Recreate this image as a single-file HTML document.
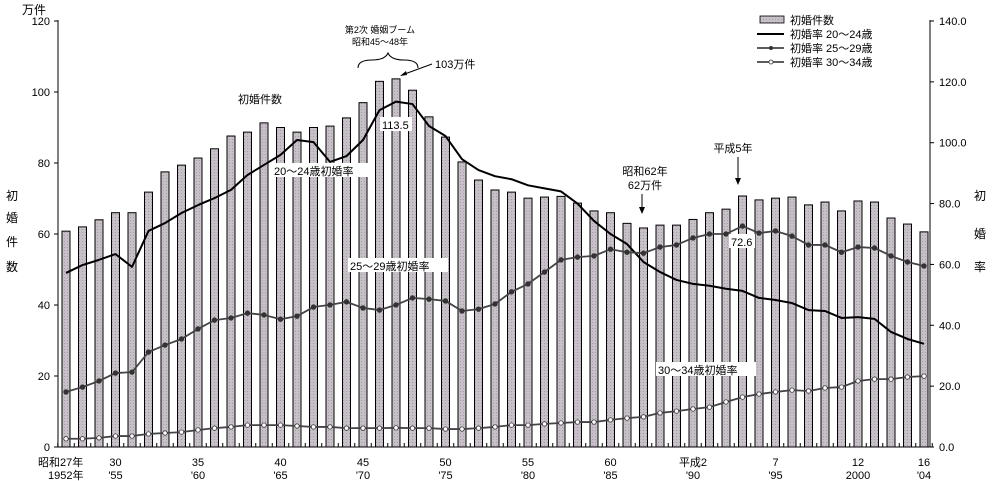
<!DOCTYPE html>
<html><head><meta charset="utf-8">
<style>
html,body{margin:0;padding:0;background:#fff;}
svg{display:block;font-family:"Liberation Sans","Noto Sans CJK JP",sans-serif;}
text{fill:#000;}
</style></head>
<body>
<svg id="chart" width="992" height="481" viewBox="0 0 992 481" xmlns="http://www.w3.org/2000/svg">
<defs>
<pattern id="dots" width="3" height="3" patternUnits="userSpaceOnUse">
<rect width="3" height="3" fill="#c6c1c6"/>
<rect x="1" y="1" width="1" height="1" fill="#b095b0"/>
</pattern>
</defs>
<g id="bars"></g>
<g id="lines"></g>
<g id="axes"></g>
<g id="annot"></g>
</svg>
<script>
const years = [];
for (let y = 1952; y <= 2004; y++) years.push(y);
const marriages = [60.8,62,64,66,66,71.8,77.5,79.4,81.4,84,87.6,88.7,91.3,90,88.7,90,90.4,92.7,97,103,103.7,100.5,93,87.3,80.3,75.2,72.4,71.8,70.1,70.4,70.6,68.7,66.5,66,63,61.7,62.5,62.5,64.1,66,67,70.7,69.6,70.1,70.4,68.2,69,66.5,69.3,69,64.5,62.8,60.6];
const rate2024 = [57.2,59.8,61.5,63.4,59.2,71,73.6,76.9,79.5,81.8,84.5,89.4,92.7,96,100.9,100.2,93.7,95.6,100.9,110.7,113.5,112.7,105.5,102.2,94.6,91,89,88,86,85,84,80,74.3,70,66.7,60.8,57.5,54.9,53.6,53,52,51.3,49,48.3,47.3,45,44.7,42.4,42.7,42.1,37.8,35.5,33.9];
const rate2529 = [18.1,19.7,21.7,24.3,24.6,31.2,33.5,35.5,38.8,41.7,42.4,44,43.4,42,43,46,46.7,47.7,45.7,45,46.7,49,48.6,48,44.7,45.3,47,51,53.6,57.5,61.5,62.4,62.8,65,64,63.7,65.7,66.4,68.7,70,70,72.6,70.3,71,69.3,66.4,66.4,64,65.7,65.4,62.8,60.8,59.5];
const rate3034 = [2.7,2.7,3,3.6,3.6,4.3,4.6,4.9,5.6,6.2,6.6,7.2,7.2,7.2,6.9,6.6,6.6,6.2,6.2,6.2,6.3,6.2,6.2,5.9,5.9,6.2,6.6,7.2,7.2,7.6,7.9,8.2,8.2,8.9,9.5,9.9,11.2,11.8,12.5,13.1,14.8,16.4,17.4,18.1,18.7,18.4,19.4,19.7,21.7,22.3,22.3,23,23.3];
const leftTicks = [0,20,40,60,80,100,120];
const rightTicks = ["0.0","20.0","40.0","60.0","80.0","100.0","120.0","140.0"];
const xLabels1 = [[1952,"昭和27年"],[1955,"30"],[1960,"35"],[1965,"40"],[1970,"45"],[1975,"50"],[1980,"55"],[1985,"60"],[1990,"平成2"],[1995,"7"],[2000,"12"],[2004,"16"]];
const xLabels2 = [[1952,"1952年"],[1955,"'55"],[1960,"'60"],[1965,"'65"],[1970,"'70"],[1975,"'75"],[1980,"'80"],[1985,"'85"],[1990,"'90"],[1995,"'95"],[2000,"2000"],[2004,"'04"]];

const NS = "http://www.w3.org/2000/svg";
const X0 = 58, X1 = 930, YB = 447, YT = 21;
const x = yr => 66 + (yr - 1952) * 16.5;
const yL = v => YB - v * (YB - YT) / 120;
const yR = v => YB - v * (YB - YT) / 140;
function mk(tag, attrs, parent) { const e = document.createElementNS(NS, tag); for (const k in attrs) e.setAttribute(k, attrs[k]); parent.appendChild(e); return e; }
function txt(s, attrs, parent) { const e = mk("text", attrs, parent); e.textContent = s; return e; }

const gb = document.getElementById("bars");
years.forEach((yr, i) => {
  const r = mk("rect", {x: x(yr) - 4, y: yL(marriages[i]), width: 8, height: YB - yL(marriages[i]), fill: "url(#dots)", stroke: "#000", "stroke-width": 1}, gb);
  
  
});

const gl = document.getElementById("lines");
function line(arr, name, width, color, marker) {
  const pts = arr.map((v, i) => x(years[i]) + "," + yR(v)).join(" ");
  const p = mk("polyline", {points: pts, fill: "none", stroke: color, "stroke-width": width, "stroke-linejoin": "round"}, gl);
  
  
  if (marker) arr.forEach((v, i) => {
    const c = mk("circle", {cx: x(years[i]), cy: yR(v), r: marker === "open" ? 2.2 : 2.3, fill: marker === "open" ? "#fff" : "#333", stroke: "#333", "stroke-width": 0.8}, gl);
    
    
  });
}
line(rate2024, "line-rate-20-24", 2, "#000", null);
line(rate2529, "line-rate-25-29", 1.8, "#444", "filled");
line(rate3034, "line-rate-30-34", 1.8, "#444", "open");

const ga = document.getElementById("axes");
mk("line", {x1: X0, y1: YT - 1, x2: X0, y2: YB, stroke: "#000"}, ga);
mk("line", {x1: X1, y1: YT - 1, x2: X1, y2: YB, stroke: "#000"}, ga);
mk("line", {x1: X0, y1: YB, x2: X1, y2: YB, stroke: "#000"}, ga);
for (let yr = 1952; yr <= 2005; yr++) mk("line", {x1: x(yr) - 8.25, y1: YB, x2: x(yr) - 8.25, y2: YB - 4, stroke: "#000"}, ga);
leftTicks.forEach(v => {
  mk("line", {x1: X0 - 4, y1: yL(v), x2: X0, y2: yL(v), stroke: "#000"}, ga);
  const t = txt(String(v), {x: 50, y: yL(v) + 4, "font-size": 11, "text-anchor": "end"}, ga);
  
  
});
rightTicks.forEach((s, i) => {
  const yy = yR(i * 20);
  mk("line", {x1: X1, y1: yy, x2: X1 + 4, y2: yy, stroke: "#000"}, ga);
  const t = txt(s, {x: 939, y: yy + 4, "font-size": 11}, ga);
  
  
});
xLabels1.forEach(([yr, s]) => {
  const t = txt(s, {x: yr === 1952 ? 38 : x(yr), y: 466, "font-size": 11, "text-anchor": yr === 1952 ? "start" : "middle"}, ga);
  
  
});
xLabels2.forEach(([yr, s]) => {
  const t = txt(s, {x: yr === 1952 ? 48 : x(yr), y: 479, "font-size": 11, "text-anchor": yr === 1952 ? "start" : "middle"}, ga);
  
  
});
</script>
<svg style="position:absolute;left:0;top:0" width="992" height="481">
<g font-family="Liberation Sans, Noto Sans CJK JP, sans-serif" font-size="11">
<text x="22" y="14" font-size="12">万件</text>
<g font-size="12"><text x="6" y="200">初</text><text x="6" y="222">婚</text><text x="6" y="246">件</text><text x="6" y="271">数</text></g>
<g font-size="12"><text x="974" y="200">初</text><text x="974" y="238">婚</text><text x="974" y="271">率</text></g>
<g>
<rect x="760" y="16" width="24" height="7" fill="url(#dots)" stroke="#000" stroke-width="0.8"/>
<text x="790" y="24">初婚件数</text>
<line x1="757" y1="34" x2="784" y2="34" stroke="#000" stroke-width="2"/>
<text x="790" y="38">初婚率 20～24歳</text>
<line x1="757" y1="48" x2="784" y2="48" stroke="#444" stroke-width="1.8"/><circle cx="771" cy="48" r="2" fill="#333"/>
<text x="790" y="52">初婚率 25～29歳</text>
<line x1="757" y1="62" x2="784" y2="62" stroke="#444" stroke-width="1.8"/><circle cx="771" cy="62" r="2" fill="#fff" stroke="#333" stroke-width="0.8"/>
<text x="790" y="66">初婚率 30～34歳</text>
</g>
<g>
<text x="380" y="33" font-size="9" text-anchor="middle">第2次 婚姻ブーム</text>
<text x="380" y="45" font-size="9" text-anchor="middle">昭和45～48年</text>
<path d="M358 68 Q358 60 372 60 Q385 60 388 53 Q391 60 404 60 Q418 60 418 68" fill="none" stroke="#000"/>
<line x1="432" y1="64" x2="402" y2="75" stroke="#000"/><path d="M400 76 l6 -5 l1 4 z" fill="#000"/>
<text x="435" y="68">103万件</text>
</g>
<text x="238" y="103">初婚件数</text>
<rect x="272" y="163" width="100" height="14" fill="#fff"/><text x="274" y="175">20～24歳初婚率</text>
<rect x="348" y="258" width="100" height="14" fill="#fff"/><text x="350" y="270">25～29歳初婚率</text>
<rect x="656" y="362" width="100" height="14" fill="#fff"/><text x="658" y="374">30～34歳初婚率</text>
<rect x="380" y="117" width="32" height="14" fill="#fff"/><text x="382" y="129">113.5</text>
<rect x="729" y="234" width="26" height="14" fill="#fff"/><text x="731" y="246">72.6</text>
<g>
<text x="645" y="175" text-anchor="middle">昭和62年</text>
<text x="645" y="189" text-anchor="middle">62万件</text>
<line x1="642" y1="194" x2="642" y2="212" stroke="#000"/><path d="M639 207 l3 7 l3 -7 z" fill="#000"/>
</g>
<g>
<text x="733" y="152" text-anchor="middle">平成5年</text>
<line x1="738" y1="157" x2="738" y2="183" stroke="#000"/><path d="M735 178 l3 7 l3 -7 z" fill="#000"/>
</g>
</g>
</svg>
</body></html>
